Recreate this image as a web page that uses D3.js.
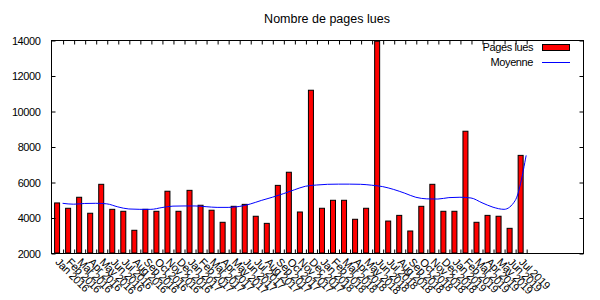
<!DOCTYPE html>
<html><head><meta charset="utf-8">
<script src="https://cdn.jsdelivr.net/npm/d3@7"></script>
<style>
body{margin:0;background:#fff;}
svg{display:block;font-family:"Liberation Sans",Arial,sans-serif;}
</style></head><body>
<div id="chart"></div>
<script>
const months = ["Jan","Feb","Mar","Apr","May","Jun","Jul","Aug","Sep","Oct","Nov","Dec"];
const categories = [];
for (let y = 2016; y <= 2019; y++) for (const m of months) { if (y === 2019 && categories.length >= 43) break; categories.push(m + " " + y); }
categories.length = 43;
const pagesLues = [4820,4520,5140,4240,5870,4460,4350,3280,4460,4350,5480,4350,5530,4690,4410,3730,4630,4740,4070,3670,5810,6550,4310,11170,4520,4970,4970,3900,4520,13930,3800,4120,3240,4630,5870,4350,4350,8860,3730,4120,4070,3390,7500];
const moyenne = [4800,4750,4790,4800,4770,4600,4480,4460,4460,4560,4640,4650,4650,4610,4570,4570,4620,4760,4960,5140,5340,5560,5760,5830,5870,5880,5880,5870,5820,5740,5580,5370,5140,5050,5040,5120,5140,5100,4830,4580,4460,4950,7500];
const yTicks = [2000,4000,6000,8000,10000,12000,14000];
const title = "Nombre de pages lues";
const legendLabels = ["Pages lues","Moyenne"];

const W = 600, H = 300;
const L = 51, R = 583, T = 40, B = 253;
const svg = d3.select("#chart").append("svg").attr("width", W).attr("height", H);

const x = d3.scaleLinear().domain([-1.05, 47.15]).range([L, R]);
const y = d3.scaleLinear().domain([2000, 14000]).range([B, T]);
const idx = d3.range(categories.length);

// bars
const bw = 5;
svg.append("g").selectAll("rect").data(pagesLues).join("rect")
  .attr("x", (d,i) => x(i - 0.5) - bw/2)
  .attr("y", d => y(d))
  .attr("width", bw)
  .attr("height", d => y(2000) - y(d))
  .attr("fill", "#ff0000").attr("stroke", "#000").attr("stroke-width", 1);

// mean line
const line = d3.line().x((d,i) => x(i)).y(d => y(d)).curve(d3.curveMonotoneX);
svg.append("path").datum(moyenne).attr("d", line)
  .attr("fill", "none").attr("stroke", "#0000ff").attr("stroke-width", 1);

// frame
svg.append("rect").attr("x", L + 0.5).attr("y", T + 0.5).attr("width", R - L).attr("height", B - T)
  .attr("fill", "none").attr("stroke", "#000").attr("stroke-width", 1);

const fontSize = 11;
// y axes
const yl = svg.append("g").attr("transform", `translate(${L + 0.5},0.5)`)
  .call(d3.axisLeft(y).tickValues(yTicks).tickSize(-4).tickPadding(11).tickFormat(d3.format("d")));
const yr = svg.append("g").attr("transform", `translate(${R + 0.5},0.5)`)
  .call(d3.axisRight(y).tickValues(yTicks).tickSize(-4).tickFormat(""));
// x axes
const xb = svg.append("g").attr("transform", `translate(0.5,${B + 0.5})`)
  .call(d3.axisBottom(x).tickValues(idx).tickSize(-4).tickFormat(""));
const xt = svg.append("g").attr("transform", `translate(0.5,${T + 0.5})`)
  .call(d3.axisTop(x).tickValues(idx).tickSize(-4).tickFormat(""));
[yl, yr, xb, xt].forEach(g => {
  g.select(".domain").remove();
  g.selectAll("line").attr("stroke", "#000");
  g.selectAll("text").attr("font-family", "Liberation Sans, Arial, sans-serif")
    .attr("font-size", fontSize).attr("fill", "#000").attr("letter-spacing", "-0.4px");
});

// rotated x labels
svg.append("g").selectAll("text").data(categories).join("text")
  .attr("transform", (d,i) => `translate(${x(i) - 2},257) rotate(45)`)
  .attr("dy", "0.75em")
  .attr("font-size", fontSize).attr("letter-spacing", "-0.4px")
  .attr("text-anchor", "start").attr("fill", "#000")
  .text(d => d);

// title
svg.append("text").attr("x", 327).attr("y", 23).attr("text-anchor", "middle")
  .attr("font-size", 12.5).attr("fill", "#000").text(title);

// legend
const lg = svg.append("g");
lg.append("text").attr("x", 533).attr("y", 51).attr("text-anchor", "end")
  .attr("font-size", fontSize).attr("letter-spacing", "-0.4px").text(legendLabels[0]);
lg.append("rect").attr("x", 542.5).attr("y", 44.5).attr("width", 27).attr("height", 6)
  .attr("fill", "#ff0000").attr("stroke", "#000");
lg.append("text").attr("x", 533).attr("y", 66).attr("text-anchor", "end")
  .attr("font-size", fontSize).attr("letter-spacing", "-0.4px").text(legendLabels[1]);
lg.append("line").attr("x1", 542).attr("x2", 570).attr("y1", 62.5).attr("y2", 62.5)
  .attr("stroke", "#0000ff");
</script></body></html>
